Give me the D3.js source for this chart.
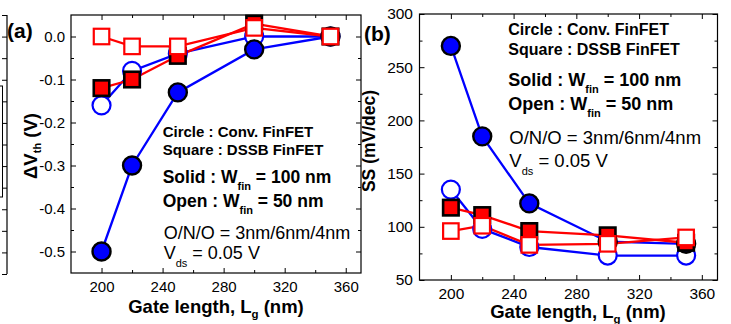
<!DOCTYPE html>
<html><head><meta charset="utf-8">
<script src="https://cdn.jsdelivr.net/npm/d3@7"></script>
<style>
body{margin:0;background:#fff}
svg{display:block}
text{font-family:"Liberation Sans",Arial,sans-serif;fill:#000}
</style>
</head><body>
<svg id="chart" width="731" height="324"></svg>
<script>
// ---------- data ----------
const gateLength = [200, 220, 250, 300, 350];
const xTickValues = [200, 240, 280, 320, 360];
const xTickLabels = ["200", "240", "280", "320", "360"];
const xMinorTicks = [220, 260, 300, 340];

// (a) threshold voltage shift, V
const dvthConvW100 = [-0.50, -0.30, -0.13, -0.03, 0.00];
const dvthConvW50  = [-0.16, -0.08, -0.04, 0.00, 0.00];
const dvthDssbW100 = [-0.12, -0.10, -0.045, 0.03, 0.00];
const dvthDssbW50  = [0.00, -0.023, -0.023, 0.02, 0.00];
const dvthTickValues = [-0.5, -0.4, -0.3, -0.2, -0.1, 0.0];
const dvthTickLabels = ["-0.5", "-0.4", "-0.3", "-0.2", "-0.1", "0.0"];
const dvthMinorTicks = [-0.45, -0.35, -0.25, -0.15, -0.05];

// (b) subthreshold swing, mV/dec
const ssConvW100 = [270, 185, 122, 86, 84];
const ssConvW50  = [135, 98, 81, 73, 73];
const ssDssbW100 = [118, 111, 96, 92, 85];
const ssDssbW50  = [96, 101, 83, 84, 90];
const ssTickValues = [50, 100, 150, 200, 250, 300];
const ssTickLabels = ["50", "100", "150", "200", "250", "300"];
const ssMinorTicks = [75, 125, 175, 225, 275];

// ---------- drawing ----------
const svg = d3.select("#chart");
const BLUE = "#0000ff", RED = "#ff0000";

function makeSeries(conv100, conv50, dssb100, dssb50) {
  // draw order: open circles, solid circles, solid squares, open squares
  return [
    {vals: conv50,  shape: "circle", filled: false, color: BLUE},
    {vals: conv100, shape: "circle", filled: true,  color: BLUE},
    {vals: dssb100, shape: "square", filled: true,  color: RED},
    {vals: dssb50,  shape: "square", filled: false, color: RED}
  ];
}

function styleAxis(g, size) {
  g.select(".domain").remove();
  g.selectAll(".tick line").attr("stroke", "#000").attr("stroke-width", 1);
  g.selectAll("text").attr("font-family", '"Liberation Sans",Arial,sans-serif')
    .attr("font-size", size).attr("fill", "#000");
}

function subText(sel, parts) {
  parts.forEach(p => {
    const t = sel.append("tspan").text(p.t);
    if (p.sub) t.attr("font-size", p.size).attr("dy", p.dy);
    if (p.back) t.attr("dy", p.back);
  });
}

function drawPanel(o) {
  const x = d3.scaleLinear().domain([180, 370]).range([o.x0, o.x1]);
  const y = d3.scaleLinear().domain(o.yDomain).range([o.y1, o.y0]);
  const g = svg.append("g");

  // axes (inward ticks on all four sides)
  const fmtX = (d) => xTickLabels[xTickValues.indexOf(d)];
  const fmtY = (d) => o.yLabels[o.yTicks.indexOf(d)];
  g.append("g").attr("transform", `translate(0,${o.y1})`)
    .call(d3.axisBottom(x).tickValues(xTickValues).tickSize(-5).tickPadding(o.xPad).tickFormat(fmtX))
    .call(a => styleAxis(a, o.tickFont));
  g.append("g").attr("transform", `translate(0,${o.y1})`)
    .call(d3.axisBottom(x).tickValues(xMinorTicks).tickSize(-3).tickFormat(""))
    .call(a => styleAxis(a, o.tickFont));
  g.append("g").attr("transform", `translate(0,${o.y0})`)
    .call(d3.axisTop(x).tickValues(xTickValues).tickSize(-5).tickFormat(""))
    .call(a => styleAxis(a, o.tickFont));
  g.append("g").attr("transform", `translate(0,${o.y0})`)
    .call(d3.axisTop(x).tickValues(xMinorTicks).tickSize(-3).tickFormat(""))
    .call(a => styleAxis(a, o.tickFont));
  g.append("g").attr("transform", `translate(${o.x0},0)`)
    .call(d3.axisLeft(y).tickValues(o.yTicks).tickSize(-5).tickPadding(o.yPad).tickFormat(fmtY))
    .call(a => styleAxis(a, o.tickFont));
  g.append("g").attr("transform", `translate(${o.x0},0)`)
    .call(d3.axisLeft(y).tickValues(o.yMinor).tickSize(-3).tickFormat(""))
    .call(a => styleAxis(a, o.tickFont));
  g.append("g").attr("transform", `translate(${o.x1},0)`)
    .call(d3.axisRight(y).tickValues(o.yTicks).tickSize(-5).tickFormat(""))
    .call(a => styleAxis(a, o.tickFont));
  g.append("g").attr("transform", `translate(${o.x1},0)`)
    .call(d3.axisRight(y).tickValues(o.yMinor).tickSize(-3).tickFormat(""))
    .call(a => styleAxis(a, o.tickFont));

  g.append("rect").attr("x", o.x0).attr("y", o.y0)
    .attr("width", o.x1 - o.x0).attr("height", o.y1 - o.y0)
    .attr("fill", "none").attr("stroke", "#000").attr("stroke-width", 1.2);

  // lines
  const line = d3.line().x((d, i) => x(gateLength[i])).y(d => y(d));
  o.series.forEach(s => {
    g.append("path").datum(s.vals).attr("d", line)
      .attr("fill", "none").attr("stroke", s.color).attr("stroke-width", 2.3);
  });
  // markers
  o.series.forEach(s => {
    const m = g.append("g");
    if (s.shape === "circle") {
      m.selectAll("circle").data(s.vals).join("circle")
        .attr("cx", (d, i) => x(gateLength[i])).attr("cy", d => y(d)).attr("r", 9)
        .attr("fill", s.filled ? s.color : "#fff")
        .attr("stroke", s.filled ? "#000" : s.color)
        .attr("stroke-width", s.filled ? 2.4 : 2.2);
    } else {
      const side = 15.5;
      m.selectAll("rect").data(s.vals).join("rect")
        .attr("x", (d, i) => x(gateLength[i]) - side / 2).attr("y", d => y(d) - side / 2)
        .attr("width", side).attr("height", side)
        .attr("fill", s.filled ? s.color : "#fff")
        .attr("stroke", s.filled ? "#000" : s.color)
        .attr("stroke-width", s.filled ? 2.6 : 2.2);
    }
  });

  // axis titles
  const xt = g.append("text").attr("x", o.xTitle[0]).attr("y", o.xTitle[1])
    .attr("text-anchor", "middle").attr("font-weight", "bold").attr("font-size", o.titleFont);
  subText(xt, [{t: "Gate length, L"}, {t: "g", sub: true, dy: 5, size: o.titleFont * 0.62}, {t: " (nm)", back: -5}]);

  const yt = g.append("text")
    .attr("transform", `translate(${o.yTitle[0]},${o.yTitle[1]}) rotate(-90)`)
    .attr("text-anchor", "middle").attr("font-weight", "bold").attr("font-size", o.yTitleFont);
  subText(yt, o.yTitleParts);

  // panel letter
  g.append("text").attr("x", o.letter[0]).attr("y", o.letter[1])
    .attr("font-weight", "bold").attr("font-size", o.letterFont).text(o.letterText);

  // annotation block
  const a = o.note;
  g.append("text").attr("x", a.x).attr("y", a.b[0]).attr("font-weight", "bold")
    .attr("font-size", a.f1).text("Circle : Conv. FinFET");
  g.append("text").attr("x", a.x).attr("y", a.b[1]).attr("font-weight", "bold")
    .attr("font-size", a.f1).text("Square : DSSB FinFET");
  const s1 = g.append("text").attr("x", a.x).attr("y", a.b[2]).attr("font-weight", "bold").attr("font-size", a.f2);
  subText(s1, [{t: "Solid : W"}, {t: "fin", sub: true, dy: 7, size: 11}, {t: " = 100 nm", back: -7}]);
  const s2 = g.append("text").attr("x", a.x).attr("y", a.b[3]).attr("font-weight", "bold").attr("font-size", a.f2);
  subText(s2, [{t: "Open : W"}, {t: "fin", sub: true, dy: 7, size: 11}, {t: " = 50 nm", back: -7}]);
  g.append("text").attr("x", a.x + 1).attr("y", a.b[4]).attr("font-size", a.f3).text("O/N/O = 3nm/6nm/4nm");
  const s3 = g.append("text").attr("x", a.x + 1).attr("y", a.b[5]).attr("font-size", a.f3);
  subText(s3, [{t: "V"}, {t: "ds", sub: true, dy: 8, size: 11}, {t: " = 0.05 V", back: -8}]);
}

// cropped right edge of a neighbouring figure at the far left
(function () {
  const y = d3.scaleLinear().domain([-0.55, 0.05]).range([274, 15]);
  const g = svg.append("g");
  g.append("g").attr("transform", "translate(7,0)")
    .call(d3.axisLeft(y).tickValues(dvthTickValues.concat(dvthMinorTicks, [-0.55, 0.05])).tickSize(5).tickFormat(""))
    .call(a => { a.select(".domain").remove(); a.selectAll("line").attr("stroke", "#000"); });
  g.append("line").attr("x1", 7).attr("x2", 7).attr("y1", y(0.05)).attr("y2", y(-0.55))
    .attr("stroke", "#000").attr("stroke-width", 1.2);
  g.append("rect").attr("x", -6).attr("y", 86).attr("width", 8.5).attr("height", 111)
    .attr("fill", "none").attr("stroke", "#000").attr("stroke-width", 1);
})();

drawPanel({
  x0: 71, x1: 361, y0: 15, y1: 273, yDomain: [-0.55, 0.05],
  yTicks: dvthTickValues, yLabels: dvthTickLabels, yMinor: dvthMinorTicks,
  series: makeSeries(dvthConvW100, dvthConvW50, dvthDssbW100, dvthDssbW50),
  tickFont: 15, xPad: 8, yPad: 6,
  titleFont: 18.5, xTitle: [216, 313],
  yTitleFont: 18.5, yTitle: [37, 146],
  yTitleParts: [{t: "\u0394V"}, {t: "th", sub: true, dy: 4, size: 11}, {t: " (V)", back: -4}],
  letter: [7, 38], letterFont: 21, letterText: "(a)",
  note: {x: 162.7, b: [136.5, 155, 183, 207.3, 239.3, 259.3], f1: 15, f2: 17.5, f3: 18}
});

drawPanel({
  x0: 419.5, x1: 717.5, y0: 14, y1: 280, yDomain: [50, 300],
  yTicks: ssTickValues, yLabels: ssTickLabels, yMinor: ssMinorTicks,
  series: makeSeries(ssConvW100, ssConvW50, ssDssbW100, ssDssbW50),
  tickFont: 15.5, xPad: 8, yPad: 6.5,
  titleFont: 18.5, xTitle: [578, 318.3],
  yTitleFont: 17.5, yTitle: [375, 141],
  yTitleParts: [{t: "SS (mV/dec)"}],
  letter: [364, 41], letterFont: 21, letterText: "(b)",
  note: {x: 508.3, b: [35, 55, 86, 110, 144, 166.7], f1: 16, f2: 18, f3: 18.5}
});
</script>
</body></html>
